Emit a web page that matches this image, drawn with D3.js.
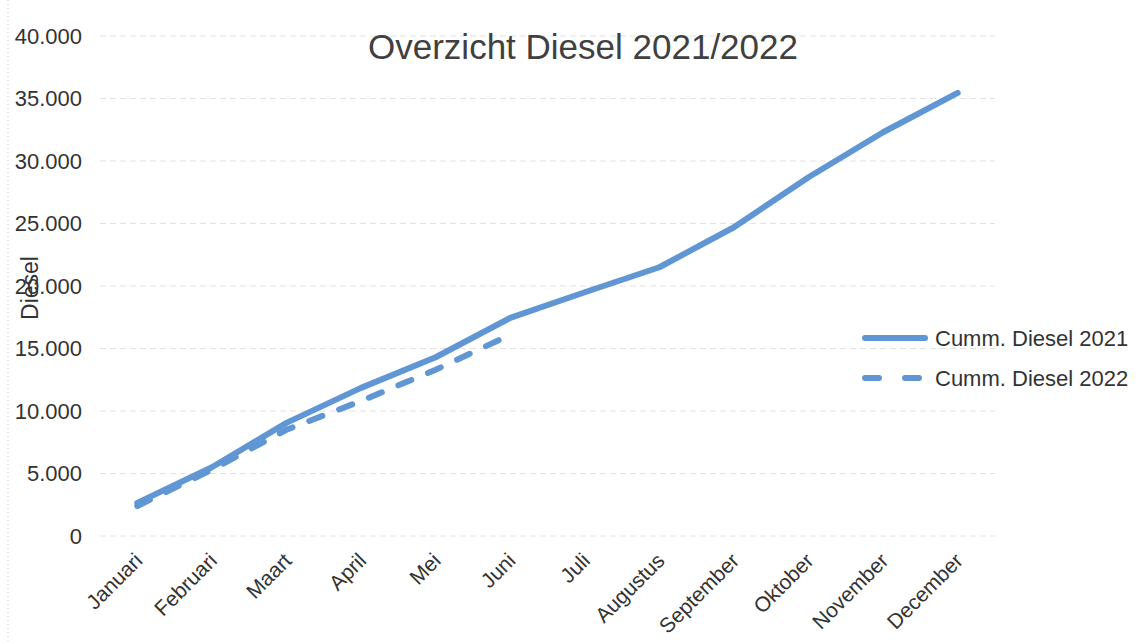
<!DOCTYPE html>
<html>
<head>
<meta charset="utf-8">
<script src="https://cdn.jsdelivr.net/npm/d3@7"></script>
<style>
  body { margin: 0; background: #fff; }
  svg { font-family: "Liberation Sans", Arial, sans-serif; }
</style>
</head>
<body>
<svg width="1148" height="644"></svg>
<script>
var months = ['Januari', 'Februari', 'Maart', 'April', 'Mei', 'Juni', 'Juli',
  'Augustus', 'September', 'Oktober', 'November', 'December'];
var diesel2021 = [2650, 5500, 9050, 11850, 14300, 17450, 19500, 21500, 24700, 28700, 32300, 35450];
var diesel2022 = [2400, 5300, 8500, 10800, 13300, 16100];
var yTicks = [0, 5000, 10000, 15000, 20000, 25000, 30000, 35000, 40000];

var margin = {top: 36, left: 100, right: 153, bottom: 108};
var width = 1148, height = 644;
var color = '#6196d5';
var svg = d3.select('svg');

var xScale = d3.scalePoint()
  .domain(months)
  .range([margin.left, width - margin.right])
  .padding(0.5);

var yScale = d3.scaleLinear()
  .domain([0, 40000])
  .range([height - margin.bottom, margin.top]);

var fmt = d => d === 0 ? '0' : d3.format(',')(d).replace(/,/g, '.');

// faint scan border on the left
svg.append('line')
  .attr('x1', 8).attr('x2', 8).attr('y1', 0).attr('y2', height)
  .attr('stroke', '#ccc').attr('stroke-dasharray', '1,3');

// gridlines
svg.append('g')
  .selectAll('line')
  .data(yTicks)
  .enter()
  .append('line')
  .attr('x1', margin.left)
  .attr('x2', width - margin.right)
  .attr('y1', d => yScale(d))
  .attr('y2', d => yScale(d))
  .attr('stroke', '#e2e2e2')
  .attr('stroke-dasharray', '6,4');

// y axis
var yAxis = d3.axisLeft(yScale).tickValues(yTicks).tickFormat(fmt).tickSize(0).tickPadding(18);
var yg = svg.append('g')
  .attr('transform', `translate(${margin.left}, 0)`)
  .call(yAxis);
yg.select('.domain').remove();
yg.selectAll('text').attr('font-size', 22).attr('fill', '#333').attr('font-family', 'Liberation Sans, Arial, sans-serif');

// x axis
var xAxis = d3.axisBottom(xScale).tickSize(0).tickPadding(0);
var xg = svg.append('g')
  .attr('transform', `translate(0, ${height - margin.bottom})`)
  .call(xAxis);
xg.select('.domain').remove();
xg.selectAll('text')
  .attr('font-size', 21)
  .attr('fill', '#333')
  .attr('font-family', 'Liberation Sans, Arial, sans-serif')
  .attr('text-anchor', 'end')
  .attr('dy', 0)
  .attr('transform', 'translate(6, 26) rotate(-45)');

// lines
var line = d3.line()
  .x((d, i) => xScale(months[i]))
  .y(d => yScale(d));

svg.append('path')
  .attr('d', line(diesel2021))
  .attr('fill', 'none')
  .attr('stroke', color)
  .attr('stroke-width', 6)
  .attr('stroke-linecap', 'round')
  .attr('stroke-linejoin', 'round');

svg.append('path')
  .attr('d', line(diesel2022))
  .attr('fill', 'none')
  .attr('stroke', color)
  .attr('stroke-width', 6)
  .attr('stroke-linecap', 'round')
  .attr('stroke-dasharray', '14,18');

// title
svg.append('text')
  .attr('x', 583)
  .attr('y', 59)
  .attr('text-anchor', 'middle')
  .attr('font-size', 35)
  .attr('fill', '#404040')
  .text('Overzicht Diesel 2021/2022');

// y title
svg.append('text')
  .attr('transform', 'translate(38, 288) rotate(-90)')
  .attr('text-anchor', 'middle')
  .attr('font-size', 23)
  .attr('fill', '#333')
  .text('Diesel');

// legend
var legend = [
  {name: 'Cumm. Diesel 2021', dash: null},
  {name: 'Cumm. Diesel 2022', dash: '14,26'}
];
var lg = svg.append('g').selectAll('g')
  .data(legend)
  .enter()
  .append('g')
  .attr('transform', (d, i) => `translate(865, ${338 + i * 40})`);
lg.append('line')
  .attr('x1', 0).attr('x2', 60)
  .attr('stroke', color)
  .attr('stroke-width', 6)
  .attr('stroke-linecap', 'round')
  .attr('stroke-dasharray', d => d.dash);
lg.append('text')
  .attr('x', 70)
  .attr('dy', '0.35em')
  .attr('font-size', 22)
  .attr('fill', '#333')
  .text(d => d.name);
</script>
</body>
</html>
